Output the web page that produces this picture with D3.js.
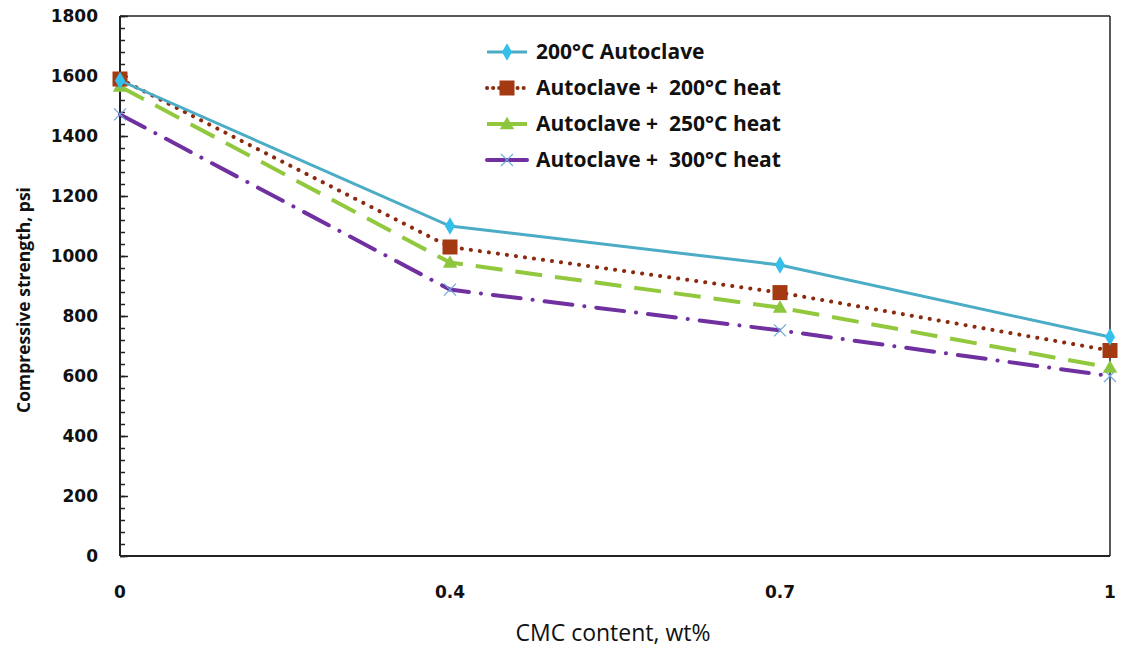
<!DOCTYPE html>
<html>
<head>
<meta charset="utf-8">
<script src="https://cdn.jsdelivr.net/npm/d3@7/dist/d3.min.js"></script>
<style>
  body { margin: 0; background: #ffffff; }
  svg { display: block; }
  .tick-label { font-family: "DejaVu Sans", sans-serif; font-weight: bold; font-size: 17px; fill: #111; }
</style>
</head>
<body>
<div id="chart"></div>
<script>

// --- Daten --------------------------------------------------------------- //

var cmcContent = ['0', '0.4', '0.7', '1'];
var yTicks = [0, 200, 400, 600, 800, 1000, 1200, 1400, 1600, 1800];

var autoclave200 = [1585, 1100, 970, 730];
var heat200 = [1590, 1030, 878, 685];
var heat250 = [1565, 978, 828, 628];
var heat300 = [1472, 888, 752, 600];

var seriesNames = ['200°C Autoclave', 'Autoclave +  200°C heat', 'Autoclave +  250°C heat', 'Autoclave +  300°C heat'];


// --- Aufbau --------------------------------------------------------------- //

var chartW = 1121, chartH = 648;
var plotLeft = 120, plotRight = 1110, plotTop = 16, plotBottom = 556;

var svg = d3.select('#chart').append('svg')
    .attr('width', chartW)
    .attr('height', chartH);

var x = d3.scalePoint()
    .domain(cmcContent)
    .range([plotLeft, plotRight]);

var y = d3.scaleLinear()
    .domain([0, 1800])
    .range([plotBottom, plotTop]);

// Rahmen oben und rechts
svg.append('line')
    .attr('x1', plotLeft).attr('x2', plotRight)
    .attr('y1', plotTop).attr('y2', plotTop)
    .attr('stroke', '#222').attr('stroke-width', 1.5);
svg.append('line')
    .attr('x1', plotRight).attr('x2', plotRight)
    .attr('y1', plotTop).attr('y2', plotBottom)
    .attr('stroke', '#222').attr('stroke-width', 1.5);

// Y-Achse mit Ticks nach innen
var minorTicks = d3.range(0, 1801, 40);
svg.append('g')
    .attr('transform', 'translate(' + plotLeft + ',0)')
    .call(d3.axisRight(y).tickValues(minorTicks).tickSize(5).tickFormat(''))
    .call(function (g) { g.select('.domain').remove(); })
    .selectAll('line').attr('stroke', '#222').attr('stroke-width', 1.5);

svg.append('g')
    .attr('transform', 'translate(' + plotLeft + ',0)')
    .call(d3.axisRight(y).tickValues(yTicks).tickSize(8).tickFormat(''))
    .call(function (g) { g.select('.domain').remove(); })
    .selectAll('line').attr('stroke', '#222').attr('stroke-width', 1.5);

svg.append('line')
    .attr('x1', plotLeft).attr('x2', plotLeft)
    .attr('y1', plotTop).attr('y2', plotBottom)
    .attr('stroke', '#222').attr('stroke-width', 2);
svg.append('line')
    .attr('x1', plotLeft).attr('x2', plotRight)
    .attr('y1', plotBottom).attr('y2', plotBottom)
    .attr('stroke', '#222').attr('stroke-width', 2);

// Tick-Beschriftungen
svg.selectAll('.ylab')
    .data(yTicks)
    .enter().append('text')
    .attr('class', 'tick-label')
    .attr('x', 98)
    .attr('y', function (d) { return y(d); })
    .attr('dy', '0.35em')
    .attr('text-anchor', 'end')
    .text(function (d) { return d; });

svg.selectAll('.xlab')
    .data(cmcContent)
    .enter().append('text')
    .attr('class', 'tick-label')
    .attr('x', function (d) { return x(d); })
    .attr('y', 598)
    .attr('text-anchor', 'middle')
    .text(function (d) { return d; });

// Achsentitel
svg.append('text')
    .attr('x', 613)
    .attr('y', 641)
    .attr('text-anchor', 'middle')
    .style('font-family', '"Open Sans", sans-serif')
    .style('font-size', '23px')
    .style('fill', '#111')
    .text('CMC content, wt%');

svg.append('text')
    .attr('transform', 'translate(30,300) rotate(-90)')
    .attr('text-anchor', 'middle')
    .style('font-family', '"Open Sans", sans-serif')
    .style('font-weight', 'bold')
    .style('font-size', '17.5px')
    .style('fill', '#111')
    .text('Compressive strength, psi');


// --- Linien --------------------------------------------------------------- //

var seriesList = [
    { name: seriesNames[0], values: autoclave200, color: '#4bacc6', dash: null, cap: 'butt', marker: 'diamond', legDash: null, w: 3 },
    { name: seriesNames[1], values: heat200, color: '#8b2a0e', dash: '0.1 9', cap: 'round', marker: 'square', legDash: '0.1 6', w: 4 },
    { name: seriesNames[2], values: heat250, color: '#92c83e', dash: '27 13', cap: 'butt', marker: 'triangle', legDash: null, w: 4 },
    { name: seriesNames[3], values: heat300, color: '#7030a0', dash: '28 12 0.1 12', cap: 'round', marker: 'x', legDash: null, w: 4 }
];

var line = d3.line()
    .x(function (d, i) { return x(cmcContent[i]); })
    .y(function (d) { return y(d); });

function drawMarker(g, type, cx, cy) {
    if (type == 'diamond') {
        g.append('path')
            .attr('d', d3.symbol().type(d3.symbolDiamond).size(90)())
            .attr('transform', 'translate(' + cx + ',' + cy + ')')
            .attr('fill', '#35c0ec');
    }
    if (type == 'square') {
        g.append('rect')
            .attr('x', cx - 7.5).attr('y', cy - 7.5)
            .attr('width', 15).attr('height', 15)
            .attr('fill', '#a33a12');
    }
    if (type == 'triangle') {
        g.append('path')
            .attr('d', d3.symbol().type(d3.symbolTriangle).size(90)())
            .attr('transform', 'translate(' + cx + ',' + (cy + 1) + ')')
            .attr('fill', '#8cc63f');
    }
    if (type == 'x') {
        g.append('path')
            .attr('d', 'M' + (cx - 6) + ',' + (cy - 6) + 'L' + (cx + 6) + ',' + (cy + 6) +
                       'M' + (cx - 6) + ',' + (cy + 6) + 'L' + (cx + 6) + ',' + (cy - 6))
            .attr('stroke', '#6fa8dc')
            .attr('stroke-width', 1.2)
            .attr('fill', 'none');
    }
}

var lineGroup = svg.append('g').attr('id', 'lines');

// in umgekehrter Reihenfolge zeichnen, damit die erste Reihe oben liegt
for (var s = seriesList.length - 1; s >= 0; s--) {
    var ser = seriesList[s];
    lineGroup.append('path')
        .datum(ser.values)
        .attr('d', line)
        .attr('fill', 'none')
        .attr('stroke', ser.color)
        .attr('stroke-width', ser.w)
        .attr('stroke-linecap', ser.cap)
        .attr('stroke-dasharray', ser.dash);

    for (var i = 0; i < ser.values.length; i++) {
        drawMarker(lineGroup, ser.marker, x(cmcContent[i]), y(ser.values[i]));
    }
}


// --- Legende --------------------------------------------------------------- //

var legend = svg.append('g').attr('id', 'legend');

for (var k = 0; k < seriesList.length; k++) {
    var ly = 52 + k * 36;
    legend.append('line')
        .attr('x1', 487).attr('x2', 527)
        .attr('y1', ly).attr('y2', ly)
        .attr('stroke', seriesList[k].color)
        .attr('stroke-width', seriesList[k].w)
        .attr('stroke-linecap', seriesList[k].cap)
        .attr('stroke-dasharray', seriesList[k].legDash);
    drawMarker(legend, seriesList[k].marker, 507, ly);
    legend.append('text')
        .attr('x', 536)
        .attr('y', ly)
        .attr('dy', '0.35em')
        .attr('xml:space', 'preserve')
        .style('white-space', 'pre')
        .style('font-family', '"Open Sans", sans-serif')
        .style('font-weight', 'bold')
        .style('font-size', '21px')
        .style('fill', '#111')
        .text(seriesList[k].name);
}

</script>
</body>
</html>
